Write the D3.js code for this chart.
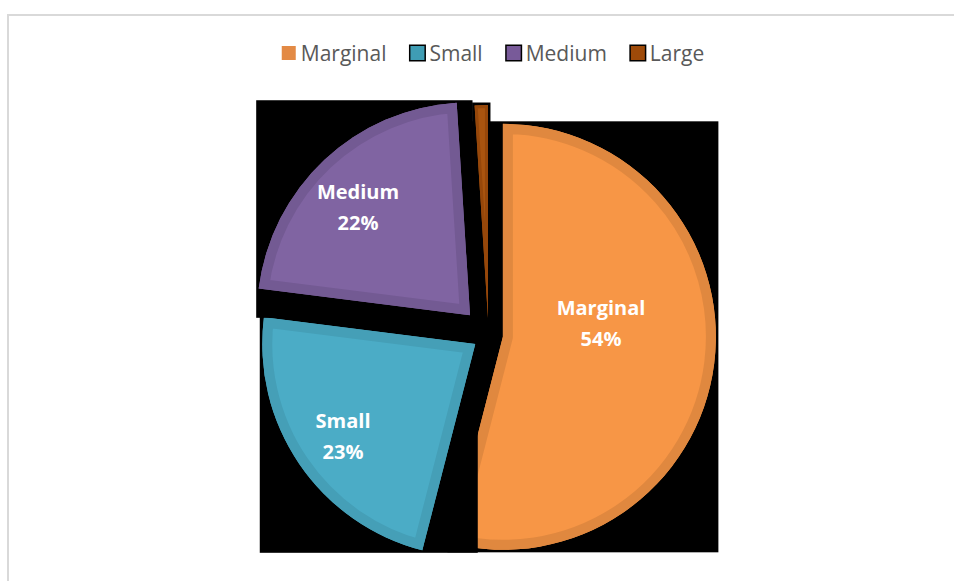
<!DOCTYPE html>
<html>
<head>
<meta charset="utf-8">
<script src="https://cdn.jsdelivr.net/npm/d3@7"></script>
<style>
  html, body { margin: 0; padding: 0; background: #ffffff; }
  svg { display: block; }
</style>
</head>
<body>
<script>
// Farm size classes and their share of holdings (%)
const categories = ["Marginal", "Small", "Medium", "Large"];
const shares = [54, 23, 22, 1];

// Slice colours: main fill and the darker inner rim
const fills = ["#F79646", "#4BACC6", "#8064A2", "#A9540F"];
const rims  = ["#E0883F", "#459FB7", "#735A93", "#96470A"];
const legendFills = ["#E38A45", "#3F9DB4", "#785A99", "#9E4A09"];

const W = 954, H = 581;
const cx = 488.5, cy = 335, R = 213;
// How far each slice is pulled out from the centre
const explode = [14.5, 16, 27, 17];
// Label placement along each slice: fraction of radius and turn from the bisector
const labelRadius = [0.465, 0.756, 0.73, 0];
const labelTurn = [-14.9, -0.6, -2.9, 0];

const svg = d3.select("body").append("svg")
  .attr("width", W).attr("height", H);

// Chart frame (runs off the right and bottom edges)
svg.append("rect")
  .attr("x", 8).attr("y", 15)
  .attr("width", W + 20).attr("height", H + 20)
  .attr("fill", "#ffffff")
  .attr("stroke", "#D9D9D9").attr("stroke-width", 2);

const defs = svg.append("defs");
const pie = d3.pie().sort(null).value(d => d);
const arcGen = d3.arc().innerRadius(0).outerRadius(R);
const slices = pie(shares);
const pad = 2.5;
const labelSize = 20, lineGap = 31, capHalf = 7.2;

slices.forEach((a, i) => {
  const mid = (a.startAngle + a.endAngle) / 2;
  const ox = cx + explode[i] * Math.sin(mid);
  const oy = cy - explode[i] * Math.cos(mid);
  const g = svg.append("g").attr("transform", `translate(${ox},${oy})`);

  const box = g.append("rect").attr("fill", "#000000");
  const path = g.append("path").attr("d", arcGen(a)).attr("fill", fills[i]);
  const bb = path.node().getBBox();
  box.attr("x", bb.x - pad).attr("y", bb.y - pad)
     .attr("width", bb.width + 2 * pad).attr("height", bb.height + 2 * pad);

  defs.append("clipPath").attr("id", "clip" + i)
    .append("path").attr("d", arcGen(a));

  g.append("path")
    .attr("d", arcGen(a))
    .attr("fill", "none")
    .attr("stroke", rims[i])
    .attr("stroke-width", i === 3 ? 6 : 20)
    .attr("stroke-linejoin", "round")
    .attr("clip-path", `url(#clip${i})`);

  if (labelRadius[i] > 0) {
    const la = mid + labelTurn[i] * Math.PI / 180;
    const lr = labelRadius[i] * R;
    const lx = lr * Math.sin(la), ly = -lr * Math.cos(la);
    const t = g.append("text")
      .attr("text-anchor", "middle")
      .attr("fill", "#ffffff")
      .attr("font-family", "'Open Sans', sans-serif")
      .attr("font-weight", "bold")
      .attr("font-size", labelSize);
    t.append("tspan").attr("x", lx).attr("y", ly - lineGap / 2 + capHalf).text(categories[i]);
    t.append("tspan").attr("x", lx).attr("y", ly + lineGap / 2 + capHalf).text(shares[i] + "%");
  }
});

// Legend, centred above the pie
const legend = svg.append("g");
const gap = 24;
let x = 0;
categories.forEach((c, i) => {
  const it = legend.append("g").attr("transform", `translate(${x},0)`);
  if (i > 0) {
    it.append("rect").attr("x", -1.5).attr("y", -1.5)
      .attr("width", 17).attr("height", 17).attr("fill", "#000000");
  }
  it.append("rect").attr("x", 0).attr("y", 0)
    .attr("width", 14).attr("height", 14).attr("fill", legendFills[i]);
  const tx = it.append("text").attr("x", 19).attr("y", 15)
    .attr("fill", "#595959")
    .attr("font-family", "'Open Sans', sans-serif")
    .attr("font-size", 21)
    .text(c);
  x += 19 + tx.node().getComputedTextLength() + gap;
});
const total = x - gap;
legend.attr("transform", `translate(${493 - total / 2},46)`);
</script>
</body>
</html>
